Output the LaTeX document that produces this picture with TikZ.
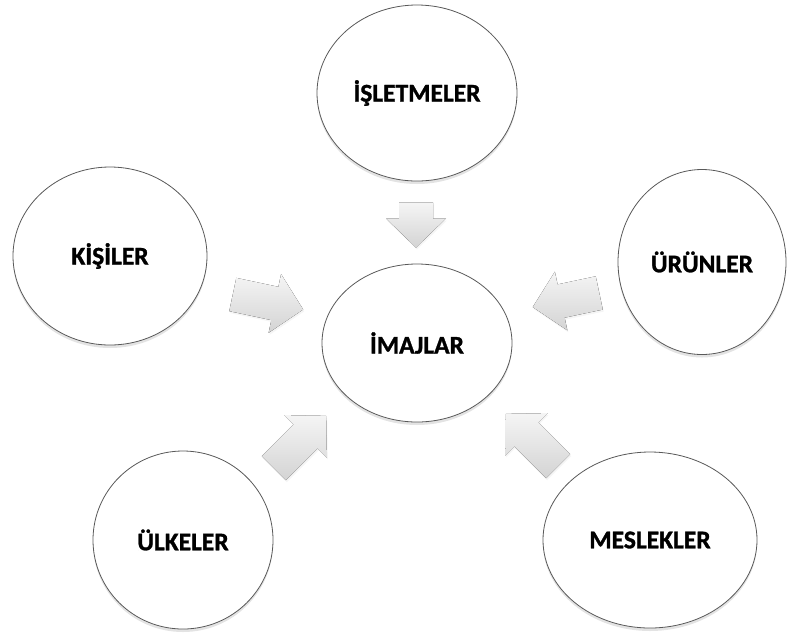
\documentclass[tikz,border=0pt]{standalone}
\usepackage{fontspec}
\setmainfont{Carlito}[BoldFeatures={FakeBold=1.2}]
\usetikzlibrary{shapes.geometric,shadows}

\tikzset{
  kavram/.style={ellipse, draw=black!65, line width=0.8pt, fill=white,
    font=\fontsize{25.5}{30}\selectfont\bfseries,
    drop shadow={opacity=0.22, shadow xshift=0pt, shadow yshift=-3pt}},
  okgolge/.style={top color=black!4, bottom color=black!17, draw=none,
    drop shadow={opacity=0.08, shadow xshift=1pt, shadow yshift=-2pt}}
}

\begin{document}
\begin{tikzpicture}[x=1pt, y=-1pt]
	\useasboundingbox (0,0) rectangle (787,633);
	% Oklar (merkez x, merkez y, aci, uzunluk)
	\foreach \cx/\cy/\aci/\boy in {416/225/-90/45, 268/302/-12/72,
		566/300/192/68, 300/442/45/74, 532/440/135/74}
	{
		\begin{scope}[shift={(\cx,\cy)}, rotate=\aci]
			\fill[okgolge] (-\boy/2, -17) -- (\boy/2-29, -17) -- (\boy/2-29, -30)
				-- (\boy/2, 0) -- (\boy/2-29, 30) -- (\boy/2-29, 17)
				-- (-\boy/2, 17) -- cycle;
		\end{scope}
	}
	% Kavramlar
	\node[kavram, minimum width=200pt, minimum height=176pt] (isletme) at (417, 93) {İŞLETMELER};
	\node[kavram, minimum width=194pt, minimum height=178pt] (kisi) at (110, 256) {KİŞİLER};
	\node[kavram, minimum width=168pt, minimum height=185pt] (urun) at (702, 262) {ÜRÜNLER};
	\node[kavram, minimum width=190pt, minimum height=158pt] (imaj) at (417, 343) {İMAJLAR};
	\node[kavram, minimum width=180pt, minimum height=178pt] (ulke) at (183, 540) {ÜLKELER};
	\node[kavram, minimum width=214pt, minimum height=176pt] (meslek) at (650, 540) {MESLEKLER};
\end{tikzpicture}
\end{document}
